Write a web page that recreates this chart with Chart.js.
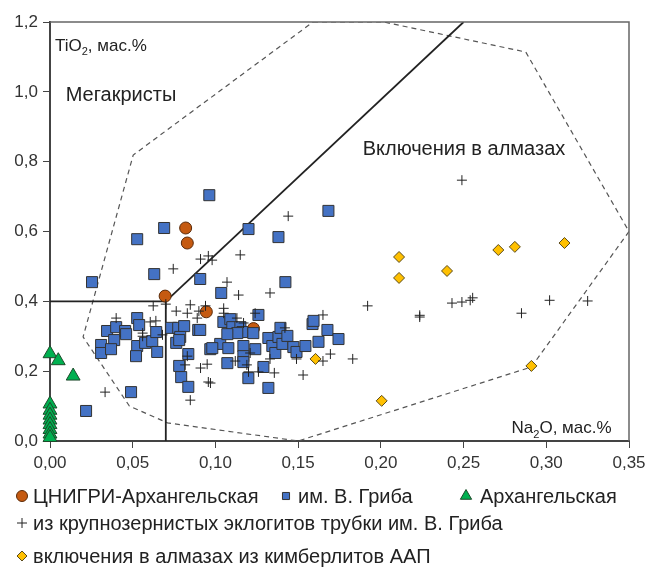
<!DOCTYPE html>
<html>
    <head>
        <meta charset="UTF-8">
        <title>TiO2 - Na2O</title>
        <script src="https://cdn.jsdelivr.net/npm/chart.js"></script>
        <style>
            html, body { margin: 0; padding: 0; background: #fff; }
            #wrap { width: 647px; height: 569px; }
        </style>
    </head>
    <body>
        <div id="wrap"><canvas id="tio2_chart_canvas"></canvas></div>

    <script>
//                                                              DATA  (x = Na2O, y = TiO2, мас.%)
//---------------------------------------------------------------------------------------------------------------------------------------------------------
    const xTicks = [0, 0.05, 0.10, 0.15, 0.20, 0.25, 0.30, 0.35];
    const yTicks = [0, 0.2, 0.4, 0.6, 0.8, 1.0, 1.2];

    const cnigri = [[0.082,0.61],[0.083,0.567],[0.0696,0.415],[0.0945,0.37],[0.123,0.322]];

    const griba = [
        [0.0963,0.704],[0.1683,0.659],[0.069,0.61],[0.12,0.607],[0.1381,0.584],[0.0527,0.578],[0.063,0.478],[0.0908,0.464],
        [0.0254,0.455],[0.1423,0.455],[0.1035,0.424],[0.126,0.361],
        [0.0527,0.352],[0.0539,0.332],[0.0345,0.315],[0.040,0.326],[0.0454,0.315],[0.046,0.306],[0.0388,0.289],[0.0309,0.275],
        [0.0309,0.252],[0.0369,0.263],[0.0527,0.272],[0.052,0.243],[0.0575,0.281],[0.0618,0.286],[0.0642,0.312],[0.0648,0.255],
        [0.0733,0.324],[0.0775,0.324],[0.0811,0.329],[0.0763,0.281],[0.0787,0.298],[0.0781,0.289],[0.0896,0.318],[0.0836,0.249],
        [0.0781,0.215],[0.0793,0.183],[0.0836,0.155],[0.0969,0.263],[0.1029,0.278],[0.049,0.14],[0.0218,0.086],
        [0.1048,0.341],[0.109,0.349],[0.1102,0.326],[0.1151,0.326],[0.1163,0.312],[0.1132,0.309],[0.1072,0.306],[0.1229,0.309],
        [0.0908,0.318],[0.1078,0.266],[0.0981,0.266],[0.1169,0.272],[0.1241,0.263],[0.1169,0.243],[0.1169,0.226],[0.1072,0.223],
        [0.129,0.212],[0.1199,0.18],[0.132,0.152],
        [0.132,0.295],[0.1344,0.272],[0.1362,0.252],[0.1381,0.298],[0.1393,0.324],[0.1405,0.278],[0.1435,0.301],[0.1471,0.269],
        [0.149,0.255],[0.1544,0.272],[0.1587,0.335],[0.1593,0.344],[0.1677,0.318],[0.1623,0.284],[0.1744,0.292]
    ];

    const arkhangelsk = [[0,0.25],[0.005,0.23],[0.014,0.186],[0,0.106],[0,0.088],[0,0.074],[0,0.06],[0,0.047],[0,0.033],[0,0.02],[0,0.01]];

    const eclogites = [
        [0.249,0.747],[0.144,0.644],[0.115,0.533],[0.0957,0.53],[0.091,0.521],[0.098,0.518],[0.0745,0.493],[0.107,0.455],
        [0.114,0.418],[0.133,0.424],[0.192,0.387],
        [0.0624,0.387],[0.070,0.392],[0.0763,0.372],[0.0848,0.39],[0.083,0.366],[0.09,0.372],[0.089,0.352],[0.094,0.387],
        [0.040,0.352],[0.0606,0.341],[0.064,0.344],[0.056,0.309],[0.056,0.300],[0.068,0.304],
        [0.105,0.38],[0.105,0.366],[0.113,0.352],[0.124,0.366],[0.165,0.361],[0.142,0.324],[0.117,0.338],
        [0.083,0.243],[0.0817,0.218],[0.091,0.209],[0.095,0.22],[0.0957,0.169],[0.0848,0.117],[0.0333,0.14],[0.097,0.166],
        [0.149,0.235],[0.1695,0.249],[0.165,0.229],[0.183,0.235],[0.153,0.189],[0.1356,0.195],[0.133,0.235],[0.121,0.252],
        [0.112,0.229],[0.119,0.218],[0.12,0.198],[0.126,0.198],
        [0.2235,0.355],[0.2235,0.36],[0.243,0.395],[0.249,0.398],[0.254,0.403],[0.2555,0.41],[0.285,0.366],[0.302,0.403],[0.325,0.401]
    ];

    const diamondInclusions = [[0.211,0.527],[0.211,0.467],[0.240,0.487],[0.271,0.547],[0.281,0.556],[0.311,0.567],[0.291,0.215],[0.2005,0.115],[0.1605,0.235]];

    // dashed field "Включения в алмазах"
    const inclusionField = [[0.159,1.2],[0.2017,1.2],[0.2876,1.114],[0.35,0.6],[0.291,0.212],[0.15,0],[0.071,0.052],[0.048,0.10],[0.020,0.298],[0.0503,0.819],[0.159,1.2]];
    // solid boundaries
    const megacrystBox = [[0,0.4],[0.07,0.4],[0.07,0]];
    const megacrystLine = [[0.07,0.4],[0.25,1.2]];

    const legendLabels = ['ЦНИГРИ-Архангельская', 'им. В. Гриба', 'Архангельская', 'из крупнозернистых эклогитов трубки им. В. Гриба', 'включения в алмазах из кимберлитов ААП'];

//                                                              HELPERS
//---------------------------------------------------------------------------------------------------------------------------------------------------------
    const toXY = arr => arr.map(p => ({ x: p[0], y: p[1] }));
    const FONT = "'Liberation Sans', Arial, sans-serif";

    // text labels inside the plot + top/right frame
    const plotTexts = {
        id: 'plotTexts',
        afterDraw(chart) {
            const ctx = chart.ctx, xs = chart.scales.x, ys = chart.scales.y, a = chart.chartArea;
            ctx.save();
            ctx.strokeStyle = '#666';
            ctx.lineWidth = 1.5;
            ctx.beginPath();
            ctx.moveTo(a.left, a.top); ctx.lineTo(a.right, a.top); ctx.lineTo(a.right, a.bottom);
            ctx.stroke();

            ctx.fillStyle = '#222';
            ctx.textBaseline = 'alphabetic';
            // subscript text
            function sub(parts, x, y, size) {
                let cx = x;
                parts.forEach(p => {
                    const s = p[1] ? size * 0.65 : size;
                    ctx.font = s + 'px ' + FONT;
                    ctx.fillText(p[0], cx, y + (p[1] ? size * 0.25 : 0));
                    cx += ctx.measureText(p[0]).width;
                });
            }
            sub([['TiO'], ['2', 1], [', мас.%']], xs.getPixelForValue(0.003), ys.getPixelForValue(1.117), 17);
            sub([['Na'], ['2', 1], ['O, мас.%']], xs.getPixelForValue(0.279), ys.getPixelForValue(0.022), 17);
            ctx.font = '20px ' + FONT;
            ctx.fillText('Мегакристы', xs.getPixelForValue(0.0095), ys.getPixelForValue(0.975));
            ctx.fillText('Включения в алмазах', xs.getPixelForValue(0.189), ys.getPixelForValue(0.82));
            ctx.restore();
        }
    };

    // custom legend below the chart
    const bottomLegend = {
        id: 'bottomLegend',
        afterDraw(chart) {
            const ctx = chart.ctx, ds = chart.data.datasets;
            const items = [
                [0, 22, 496, 33], [1, 286, 496, 298], [2, 466, 496, 480],
                [3, 22, 523, 33], [4, 22, 556, 33]
            ];
            ctx.save();
            items.forEach(it => {
                const d = ds[it[0]];
                ctx.fillStyle = d.backgroundColor;
                ctx.strokeStyle = d.borderColor;
                ctx.lineWidth = 1;
                Chart.helpers.drawPoint(ctx, { pointStyle: d.pointStyle, radius: d.legendRadius, rotation: 0, borderWidth: 1 }, it[1], it[2]);
                ctx.fillStyle = '#222';
                ctx.font = '20px ' + FONT;
                ctx.textBaseline = 'middle';
                ctx.fillText(legendLabels[it[0]], it[3], it[2] + 1);
            });
            ctx.restore();
        }
    };

//                                                              CHART
//---------------------------------------------------------------------------------------------------------------------------------------------------------
    const axisGrid = { display: true, drawOnChartArea: false, drawTicks: true, tickLength: 7, color: '#444', lineWidth: 1 };
    const axisBorder = { display: true, color: '#444', width: 2 };

    new Chart(document.getElementById('tio2_chart_canvas'), {
        type: 'scatter',
        data: {
            datasets: [
                { label: legendLabels[0], data: toXY(cnigri), pointStyle: 'circle', pointRadius: 6, legendRadius: 5.5,
                  backgroundColor: '#C55A11', borderColor: '#5a2a08', borderWidth: 1, order: 4, clip: false },
                { label: legendLabels[1], data: toXY(griba), pointStyle: 'rect', pointRadius: 7.8, legendRadius: 5,
                  backgroundColor: '#4472C4', borderColor: '#333', borderWidth: 1, order: 3, clip: false },
                { label: legendLabels[2], data: toXY(arkhangelsk), pointStyle: 'triangle', pointRadius: 8, legendRadius: 6.5,
                  backgroundColor: '#00B050', borderColor: '#1d4a2a', borderWidth: 1, order: 5, clip: false },
                { label: legendLabels[3], data: toXY(eclogites), pointStyle: 'cross', pointRadius: 5, legendRadius: 5,
                  backgroundColor: '#222', borderColor: '#222', borderWidth: 1, order: 1, clip: false },
                { label: legendLabels[4], data: toXY(diamondInclusions), pointStyle: 'rectRot', pointRadius: 5.5, legendRadius: 5,
                  backgroundColor: '#FFC000', borderColor: '#5a4a1a', borderWidth: 1, order: 2, clip: false },
                { label: 'field', data: toXY(inclusionField), showLine: true, pointRadius: 0, borderColor: '#555',
                  borderWidth: 1.2, borderDash: [5, 4], fill: false, order: 9 },
                { label: 'box', data: toXY(megacrystBox), showLine: true, pointRadius: 0, borderColor: '#222',
                  borderWidth: 1.8, fill: false, order: 8 },
                { label: 'diag', data: toXY(megacrystLine), showLine: true, pointRadius: 0, borderColor: '#222',
                  borderWidth: 1.8, fill: false, order: 8 }
            ]
        },
        options: {
            responsive: true,
            maintainAspectRatio: false,
            animation: false,
            layout: { padding: { left: 0, right: 18, top: 22, bottom: 98 } },
            plugins: {
                legend: { display: false },
                tooltip: { enabled: false }
            },
            scales: {
                x: {
                    type: 'linear', min: 0, max: 0.35,
                    afterBuildTicks: s => { s.ticks = xTicks.map(v => ({ value: v })); },
                    afterFit: s => { s.height = 30; s.paddingRight = 0; s.paddingLeft = 0; },
                    ticks: { callback: v => v.toFixed(2).replace('.', ','), font: { size: 17, family: FONT }, color: '#333', padding: 5, maxRotation: 0 },
                    grid: axisGrid, border: axisBorder
                },
                y: {
                    type: 'linear', min: 0, max: 1.2,
                    afterBuildTicks: s => { s.ticks = yTicks.map(v => ({ value: v })); },
                    afterFit: s => { s.width = 50; s.paddingTop = 0; s.paddingBottom = 0; },
                    ticks: { callback: v => v.toFixed(1).replace('.', ','), font: { size: 17, family: FONT }, color: '#333', padding: 5 },
                    grid: axisGrid, border: axisBorder
                }
            }
        },
        plugins: [plotTexts, bottomLegend]
    });
    </script>
    </body>
</html>
